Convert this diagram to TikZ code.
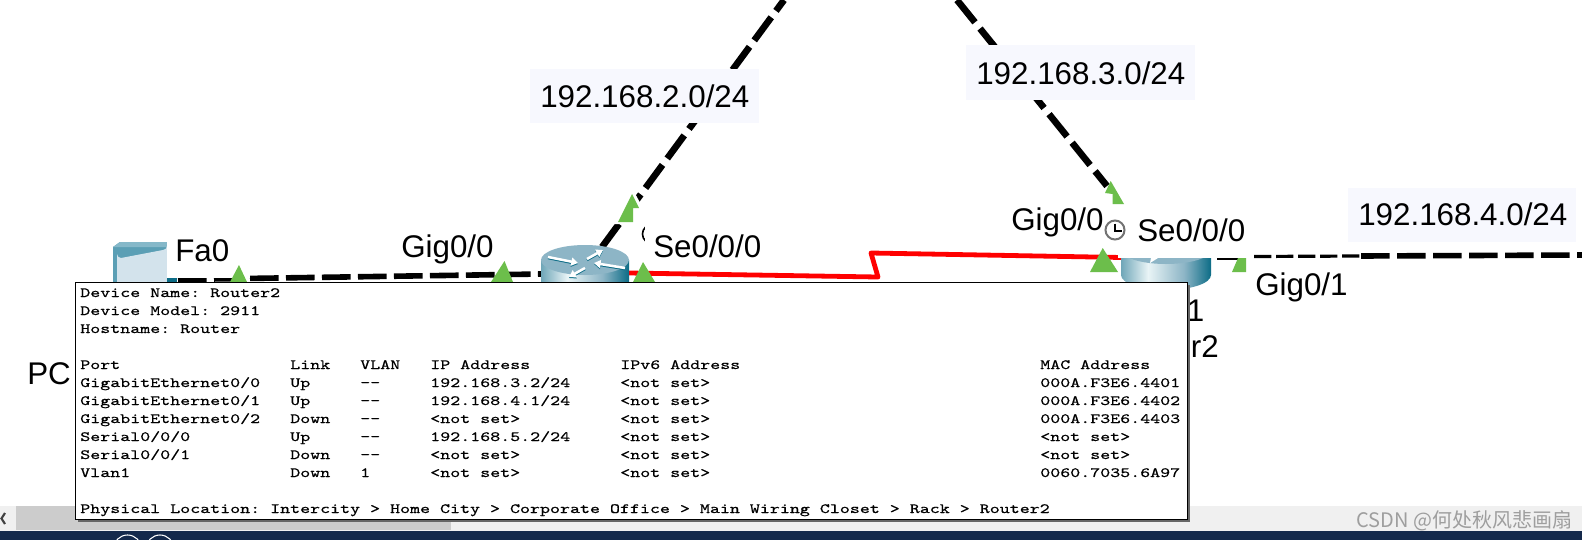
\documentclass[tikz,border=0pt]{standalone}
\usepackage{fontspec}
\setmainfont{Liberation Sans}
\newfontfamily\tipfont[FakeStretch=1.347,FakeBold=0.6]{Latin Modern Mono}
\newfontfamily\cjkmark{Noto Sans CJK SC}
\usetikzlibrary{arrows.meta}
\definecolor{grn}{HTML}{6CBE4B}
\definecolor{lbl}{HTML}{F7F8FE}
\definecolor{teallight}{HTML}{6FA6B8}
\definecolor{tealpale}{HTML}{E9F4F6}
\definecolor{tealdark}{HTML}{0C6C86}
\definecolor{roof}{HTML}{8DB5C6}
\definecolor{navy}{HTML}{14294B}
\definecolor{pcframe}{HTML}{5B9FB5}
\definecolor{pcbevel}{HTML}{85B8C9}
\definecolor{pcface}{HTML}{D3E3EC}
\pgfdeclarehorizontalshading{rbody}{100bp}{color(0bp)=(teallight); color(25bp)=(teallight); color(40bp)=(tealpale); color(60bp)=(roof); color(75bp)=(tealdark); color(100bp)=(tealdark)}
\tikzset{
  x=0.75pt,y=-0.75pt,
  portlabel/.style={font=\fontsize{23.5}{28}\selectfont,inner sep=0pt,anchor=base west,text=black},
  netlabel/.style={portlabel},
  flag/.style={fill=grn,draw=none},
  linkline/.style={black,line width=4.2pt,dash pattern=on 21.5pt off 5.5pt},
  diagline/.style={black,line width=5pt,dash pattern=on 21.5pt off 6pt},
  thinlink/.style={black,line width=2.4pt,dash pattern=on 13pt off 3.5pt},
  seriallink/.style={red,line width=3.6pt,line join=round},
  tipcell/.style={font=\tipfont\fontsize{10.6}{13}\selectfont,inner sep=0pt,anchor=base west,text=black},
  rarrow/.style={white,line width=1.9pt,-{Triangle[length=5pt,width=6pt]}},
  rshadow/.style={tealdark,line width=1.9pt,-{Triangle[length=5pt,width=6pt]}},
}
\newcommand{\tiprow}[7]{%
  \node[tipcell] (a#1) at (80,#2) {#3};
  \node[tipcell] (b#1) at (290,#2) {#4};
  \node[tipcell] (c#1) at (360,#2) {#5};
  \node[tipcell] (d#1) at (430,#2) {#6};
  \node[tipcell] (e#1) at (620,#2) {#7};
}
\begin{document}
\frenchspacing
\begin{tikzpicture}
\useasboundingbox (0,0) rectangle (1582,540);
\fill[white] (0,0) rectangle (1582,540);
% bottom bars
\fill[black!6] (0,506) rectangle (1582,531);
\fill[black!20] (16,506) rectangle (451,530);
\fill[navy] (0,531) rectangle (1582,540);
\draw[black!75,line width=1.6pt] (5,513) -- (1.5,518.5) -- (5,524);
\begin{scope}
\clip (100,531) rectangle (190,540);
\draw[white,line width=.8pt] (127.5,549) circle (14);
\draw[white,line width=.8pt] (160,549) circle (14);
\end{scope}
\node[font=\cjkmark\fontsize{15}{18}\selectfont,text=black!38,inner sep=0pt,anchor=base west] (mark) at (1356,527) {CSDN @何处秋风悲画扇};
% anchors
\coordinate (pcport) at (178,279.5);
\coordinate (r1l) at (541,274);
\coordinate (r1up) at (602,247);
\coordinate (offa) at (784,0);
\coordinate (offb) at (957,0);
\coordinate (r2up) at (1107,186);
\coordinate (r1r) at (629,273);
\coordinate (z1) at (878,277);
\coordinate (z2) at (871,253);
\coordinate (r2l) at (1122,257.5);
\coordinate (g1z) at (1217,259);
\coordinate (g1a) at (1239,259);
\coordinate (g1b) at (1254,256.5);
\coordinate (g1c) at (1361,256);
\coordinate (offc) at (1582,255);
% PC icon
\fill[pcframe] (113,247) -- (120,242) -- (167,242) -- (167,282) -- (113,282) -- cycle;
\fill[pcbevel] (113,247) -- (120,242) -- (167,242) -- (167,247) -- cycle;
\fill[pcface] (117,254) arc[start angle=180,end angle=90,radius=4] -- (163,250) arc[start angle=90,end angle=0,radius=4] -- (167,282) -- (117,282) -- cycle;
\fill[tealdark] (167,278) rectangle (177,282);
% links
\draw[linkline] (pcport) -- (r1l);
\draw[diagline] (r1up) -- (offa);
\draw[diagline] (offb) -- (r2up);
\draw[seriallink] (r1r) -- (z1) -- (z2) -- (r2l);
\draw[black,line width=1.8pt] (g1z) -- (g1a);
\draw[thinlink] (g1b) -- (g1c);
\draw[linkline] (g1c) -- (offc);
% Router 1
\shade[shading=rbody] (541,260) -- (541,300) arc[start angle=180,end angle=0,x radius=44,y radius=15] -- (629,260) -- cycle;
\fill[roof] (585,260) ellipse [x radius=44,y radius=15];
\draw[rshadow] (548,258) -- (578,264);
\draw[rshadow] (587,260) -- (603,251);
\draw[rshadow] (625,269) -- (594,264);
\draw[rshadow] (585,269) -- (569,278);
\draw[rarrow] (548,257) -- (578,263);
\draw[rarrow] (587,259) -- (603,250);
\draw[rarrow] (625,268) -- (594,263);
\draw[rarrow] (585,268) -- (569,277);
% Router 2
\shade[shading=rbody] (1121,250) -- (1121,275) arc[start angle=180,end angle=0,x radius=45,y radius=15] -- (1211,250) -- cycle;
\fill[roof] (1166,250) ellipse [x radius=45,y radius=14];
\fill[white] (1150,263) -- (1158,258) -- (1151,258) -- cycle;
\fill[white] (1118,225) rectangle (1216,258);
% clock behind router-1 label
\draw[black,line width=1.2pt] (652,234) circle (9.5);
% labels
\fill[white] (167,235) rectangle (250,278);
\fill[white] (645,215) rectangle (770,268);
\node[portlabel] (fa0) at (175,261) {Fa0};
\node[portlabel] (g00a) at (401,257) {Gig0/0};
\node[portlabel] (se0a) at (653,257) {Se0/0/0};
\node[portlabel] (g00b) at (1011,230) {Gig0/0};
\node[portlabel] (se0b) at (1137,241) {Se0/0/0};
\node[portlabel] (g01) at (1255,295) {Gig0/1};
\node[portlabel] (one) at (1186.5,321) {1};
\node[portlabel,anchor=base east] (rname) at (1219,357) {er2};
\node[portlabel] (pc) at (27,384) {PC};
\fill[lbl] (530,69) rectangle (759,123);
\node[netlabel] (n2) at (540,107) {192.168.2.0/24};
\fill[lbl] (966,45) rectangle (1195,100);
\node[netlabel] (n3) at (976,84) {192.168.3.0/24};
\fill[lbl] (1348,188) rectangle (1576,242);
\node[netlabel] (n4) at (1358,225) {192.168.4.0/24};
% link lights
\fill[flag] (230,282) -- (239,265) -- (247,282) -- cycle;
\fill[flag] (491,282) -- (504.5,261) -- (513,282) -- cycle;
\fill[flag] (633,282) -- (643,262) -- (655,282) -- cycle;
\fill[white] (615,190) -- (632,188) -- (644,210) -- (640,224) -- (612,224) -- cycle;
\fill[flag] (618,222) -- (632,194) -- (639,208) -- (633,208) -- (633,222) -- cycle;
\fill[flag] (1090,272) -- (1102.7,248) -- (1118,272) -- cycle;
\fill[flag] (1232,272) -- (1238,258) -- (1246,258) -- (1246,272) -- cycle;
\fill[flag] (1105,193) -- (1110.7,181) -- (1124,204) -- (1112.7,204) -- (1112.7,194) -- cycle;
% clock
\draw[black!55,line width=1.5pt] (1115,230) circle (9.5);
\draw[black,line width=.8pt] (1115,223.5) -- (1115,231) -- (1122,231);
% tooltip
\fill[black!60] (78,285) rectangle (1190,522);
\node[fill=white,draw=black,line width=.9pt,inner sep=0pt,anchor=north west,minimum width=1112*0.75pt,minimum height=237*0.75pt] (tip) at (75,282) {};
\node[tipcell] (t1) at (80,297) {Device Name: Router2};
\node[tipcell] (t2) at (80,315) {Device Model: 2911};
\node[tipcell] (t3) at (80,333) {Hostname: Router};
\tiprow{h}{369}{Port}{Link}{VLAN}{IP Address}{IPv6 Address}
\tiprow{p}{387}{GigabitEthernet0/0}{Up}{--}{192.168.3.2/24}{<not set>}
\tiprow{q}{405}{GigabitEthernet0/1}{Up}{--}{192.168.4.1/24}{<not set>}
\tiprow{r}{423}{GigabitEthernet0/2}{Down}{--}{<not set>}{<not set>}
\tiprow{s}{441}{Serial0/0/0}{Up}{--}{192.168.5.2/24}{<not set>}
\tiprow{t}{459}{Serial0/0/1}{Down}{--}{<not set>}{<not set>}
\tiprow{u}{477}{Vlan1}{Down}{1}{<not set>}{<not set>}
\node[tipcell] (mh) at (1040,369) {MAC Address};
\node[tipcell] (mp) at (1040,387) {000A.F3E6.4401};
\node[tipcell] (mq) at (1040,405) {000A.F3E6.4402};
\node[tipcell] (mr) at (1040,423) {000A.F3E6.4403};
\node[tipcell] (ms) at (1040,441) {<not set>};
\node[tipcell] (mt) at (1040,459) {<not set>};
\node[tipcell] (mu) at (1040,477) {0060.7035.6A97};
\node[tipcell] (loc) at (80,513) {Physical Location: Intercity > Home City > Corporate Office > Main Wiring Closet > Rack > Router2};
\end{tikzpicture}
\end{document}
